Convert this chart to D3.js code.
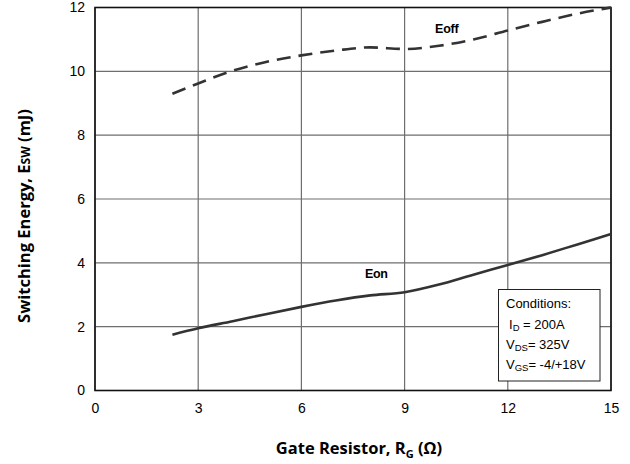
<!DOCTYPE html>
<html>
<head>
<meta charset="utf-8">
<script src="https://cdn.jsdelivr.net/npm/d3@7"></script>
<style>
  body { margin: 0; background: #fff; }
  svg { display: block; }
  .tick text { font-family: "Liberation Sans", Arial, sans-serif; font-size: 14px; fill: #000; }
</style>
</head>
<body>
<svg id="chart" width="630" height="464"></svg>
<script>
// Gate resistance (ohm) and switching energy (mJ)
const rgOff = [2.25, 3, 4, 5, 6, 7, 8, 9, 10, 11, 12, 13, 14, 15];
const eoff  = [9.3, 9.62, 10.02, 10.3, 10.5, 10.65, 10.75, 10.7, 10.8, 11.0, 11.28, 11.55, 11.8, 12.0];
const rgOn  = [2.25, 3, 4, 5, 6, 7, 8, 9, 10, 11, 12, 13, 14, 15];
const eon   = [1.75, 1.95, 2.17, 2.4, 2.62, 2.82, 2.98, 3.08, 3.32, 3.63, 3.93, 4.24, 4.57, 4.9];
const xTicks = [0, 3, 6, 9, 12, 15];
const yTicks = [0, 2, 4, 6, 8, 10, 12];

const svg = d3.select("#chart");
const plotL = 95, plotR = 611, plotT = 7.5, plotB = 390.5;

const x = d3.scaleLinear().domain([0, 15]).range([plotL, plotR]);
const y = d3.scaleLinear().domain([0, 12]).range([plotB, plotT]);

// grid
svg.append("g").selectAll("line").data(xTicks).join("line")
  .attr("x1", d => x(d)).attr("x2", d => x(d))
  .attr("y1", plotT).attr("y2", plotB)
  .attr("stroke", "#6e6e6e").attr("stroke-width", 1.2);
svg.append("g").selectAll("line").data(yTicks).join("line")
  .attr("x1", plotL).attr("x2", plotR)
  .attr("y1", d => y(d)).attr("y2", d => y(d))
  .attr("stroke", "#6e6e6e").attr("stroke-width", 1.2);

// tick labels
const xAxis = svg.append("g").attr("transform", `translate(0,${plotB})`)
  .call(d3.axisBottom(x).tickValues(xTicks).tickSize(0).tickPadding(13));
xAxis.select(".domain").remove();
const yAxis = svg.append("g").attr("transform", `translate(${plotL},0)`)
  .call(d3.axisLeft(y).tickValues(yTicks).tickSize(0).tickPadding(10));
yAxis.select(".domain").remove();

// frame
svg.append("rect").attr("x", plotL).attr("y", plotT)
  .attr("width", plotR - plotL).attr("height", plotB - plotT)
  .attr("fill", "none").attr("stroke", "#111").attr("stroke-width", 1.6);

// curves
const line = d3.line().curve(d3.curveMonotoneX);
svg.append("path")
  .attr("d", line(rgOff.map((r, i) => [x(r), y(eoff[i])])))
  .attr("fill", "none").attr("stroke", "#333").attr("stroke-width", 2.6)
  .attr("stroke-dasharray", "14,8");
svg.append("path")
  .attr("d", line(rgOn.map((r, i) => [x(r), y(eon[i])])))
  .attr("fill", "none").attr("stroke", "#333").attr("stroke-width", 2.6);

// curve labels
const lf = "Liberation Sans, Arial, sans-serif";
svg.append("text").attr("x", 435).attr("y", 33).text("Eoff")
  .attr("font-family", lf).attr("font-size", "12.5px").attr("font-weight", "bold")
  .attr("letter-spacing", "-0.2");
svg.append("text").attr("x", 365).attr("y", 278).text("Eon")
  .attr("font-family", lf).attr("font-size", "12.5px").attr("font-weight", "bold")
  .attr("letter-spacing", "-0.3");

// conditions box
svg.append("rect").attr("x", 498.5).attr("y", 289.5).attr("width", 101.5).attr("height", 91.5)
  .attr("fill", "#fff").attr("stroke", "#222").attr("stroke-width", 1);
const cond = svg.append("g").attr("font-family", lf).attr("font-size", "13px").attr("fill", "#000");
cond.append("text").attr("x", 506).attr("y", 308).text("Conditions:");
function condLine(xx, yy, main, sub, rest) {
  const t = cond.append("text").attr("x", xx).attr("y", yy);
  t.append("tspan").text(main);
  t.append("tspan").attr("font-size", "9.5px").attr("dy", 2).text(sub);
  t.append("tspan").attr("dy", -2).text(rest);
}
condLine(509, 329, "I", "D", " = 200A");
condLine(506, 349, "V", "DS", "= 325V");
condLine(506, 369, "V", "GS", "= -4/+18V");

// axis titles
const tf = "Open Sans, Lato, sans-serif";
const xt = svg.append("text").attr("x", 359).attr("y", 454).attr("text-anchor", "middle")
  .attr("font-family", tf).attr("font-size", "16.5px").attr("font-weight", "bold");
xt.append("tspan").text("Gate Resistor, R");
xt.append("tspan").attr("font-size", "11px").attr("dy", 4).text("G");
xt.append("tspan").attr("dy", -4).text(" (Ω)");

const yt = svg.append("text").attr("transform", "translate(30,216) rotate(-90)")
  .attr("text-anchor", "middle")
  .attr("font-family", tf).attr("font-size", "16.5px").attr("font-weight", "bold");
yt.append("tspan").text("Switching Energy, E");
yt.append("tspan").attr("font-size", "12px").text("SW");
yt.append("tspan").text(" (mJ)");
</script>
</body>
</html>
